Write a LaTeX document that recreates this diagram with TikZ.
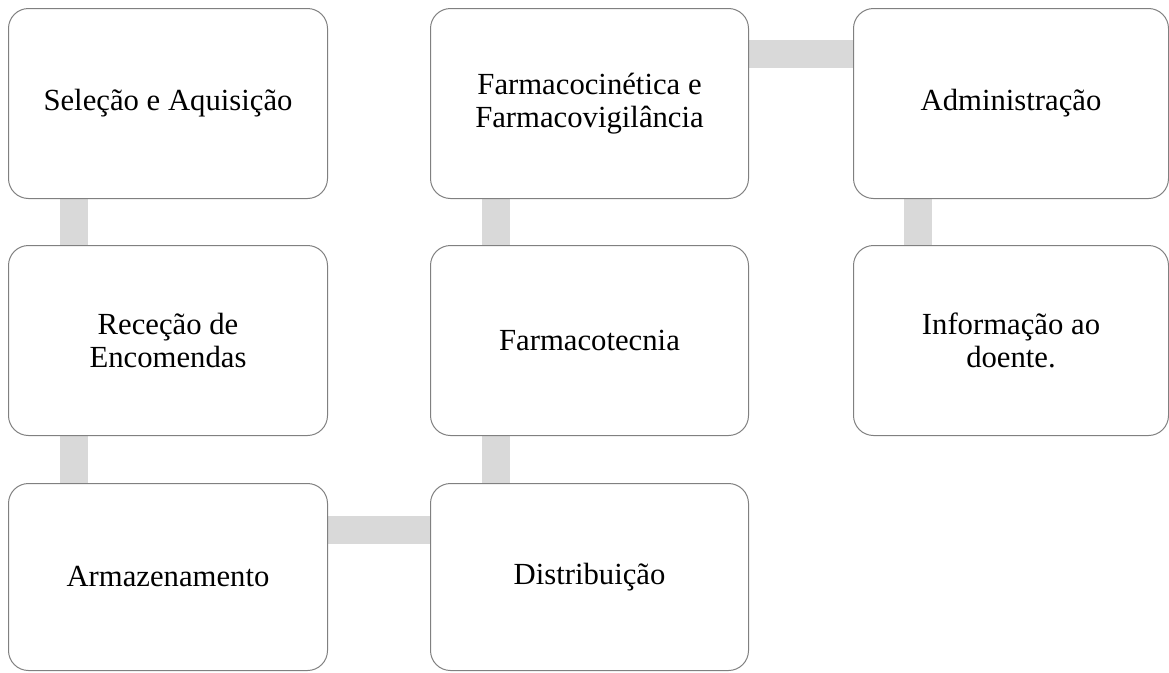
\documentclass[tikz,border=0pt]{standalone}
\usepackage{fontspec}
\setmainfont{Liberation Serif}
\usetikzlibrary{backgrounds}
\definecolor{boxgray}{HTML}{808080}
\definecolor{bargray}{HTML}{D9D9D9}
\begin{document}
\begin{tikzpicture}[x=1pt,y=-1pt,
  box/.style={draw=boxgray, line width=1pt, fill=white, rounded corners=20pt,
    minimum width=318pt, minimum height=189pt, align=center, inner sep=0pt,
    anchor=north west, font=\fontsize{30.7}{32.5}\selectfont},
  bar/.style={draw=bargray, line width=28pt}]
\useasboundingbox (0,0) rectangle (1169,672);
% column 1
\node[box, minimum width=319pt, minimum height=190pt] (sel) at (8,8) {Seleção e Aquisição};
\node[box, minimum width=319pt, minimum height=190pt] (rec) at (8,245) {Receção de\\Encomendas};
\node[box, minimum width=319pt, minimum height=187pt] (arm) at (8,483) {Armazenamento};
% column 2
\node[box, minimum height=190pt] (fcin) at (430,8) {Farmacocinética e\\Farmacovigilância};
\node[box, minimum height=190pt] (ftec) at (430,245) {Farmacotecnia};
\node[box, minimum height=187pt] (dis) at (430,483) {Distribuição};
% column 3
\node[box, minimum width=315pt, minimum height=190pt] (adm) at (853,8) {Administração};
\node[box, minimum width=315pt, minimum height=190pt] (inf) at (853,245) {Informação ao\\doente.};
% connectors
\begin{scope}[on background layer]
\fill[white] (0,0) rectangle (1169,672);
\draw[bar] ([xshift=66pt]sel.south west) -- ([xshift=66pt]rec.north west);
\draw[bar] ([xshift=66pt]rec.south west) -- ([xshift=66pt]arm.north west);
\draw[bar] ([yshift=-47pt]arm.north east) -- ([yshift=-47pt]dis.north west);
\draw[bar] ([xshift=65.5pt]dis.north west) -- ([xshift=65.5pt]ftec.south west);
\draw[bar] ([xshift=65.5pt]ftec.north west) -- ([xshift=65.5pt]fcin.south west);
\draw[bar] ([yshift=-46pt]fcin.north east) -- ([yshift=-46pt]adm.north west);
\draw[bar] ([xshift=64.5pt]adm.south west) -- ([xshift=64.5pt]inf.north west);
\end{scope}
\end{tikzpicture}
\end{document}
